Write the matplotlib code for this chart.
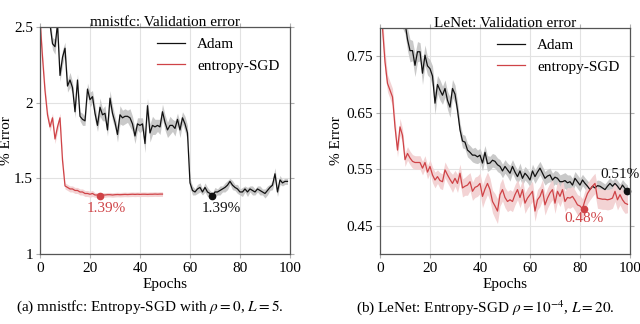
"""
plot.py

Validation error of Adam vs entropy-SGD on mnistfc and LeNet.
"""

import numpy as np
import matplotlib
matplotlib.use("Agg")
import matplotlib.pyplot as plt

plt.rcParams['font.family'] = ['Liberation Serif', 'DejaVu Serif']
plt.rcParams['mathtext.fontset'] = 'stix'
plt.rcParams['font.size'] = 11

RED = '#cf4347'
RED_BAND = '#f3d3d4'
BLACK = '#111111'
GRAY_BAND = '#c9c9c9'

# ---- mnistfc (left panel) ----
adam_mnist_err = [
    3.20, 2.90, 2.75, 2.62, 2.52, 2.39, 2.37, 2.52, 2.18, 2.30,
    2.36, 2.11, 2.15, 2.10, 1.94, 2.15, 1.91, 1.89, 1.88, 2.09,
    2.02, 2.04, 1.93, 1.85, 1.97, 1.92, 1.93, 1.82, 2.03, 1.93,
    1.87, 1.79, 1.92, 1.90, 1.91, 1.91, 1.90, 1.86, 1.78, 1.86,
    1.85, 1.86, 1.73, 1.98, 1.80, 1.85, 1.84, 1.85, 1.84, 1.94,
    1.87, 1.82, 1.85, 1.85, 1.83, 1.89, 1.82, 1.90, 1.86, 1.80,
    1.47, 1.42, 1.41, 1.43, 1.44, 1.41, 1.44, 1.41, 1.40, 1.385,
    1.41, 1.41, 1.42, 1.43, 1.44, 1.455, 1.48, 1.455, 1.44, 1.43,
    1.41, 1.41, 1.43, 1.41, 1.43, 1.42, 1.41, 1.43, 1.42, 1.41,
    1.40, 1.42, 1.44, 1.455, 1.53, 1.41, 1.49, 1.47, 1.48, 1.48,
]
adam_mnist_std = [
    0.05, 0.05, 0.05, 0.05, 0.05, 0.04, 0.05, 0.05, 0.04, 0.05,
    0.04, 0.04, 0.05, 0.04, 0.04, 0.04, 0.03, 0.04, 0.03, 0.04,
    0.05, 0.04, 0.05, 0.04, 0.06, 0.04, 0.05, 0.04, 0.05, 0.05,
    0.04, 0.05, 0.06, 0.05, 0.05, 0.04, 0.06, 0.05, 0.05, 0.04,
    0.05, 0.04, 0.06, 0.05, 0.06, 0.06, 0.05, 0.04, 0.05, 0.05,
    0.05, 0.05, 0.06, 0.04, 0.05, 0.04, 0.05, 0.04, 0.05, 0.05,
    0.03, 0.03, 0.02, 0.03, 0.03, 0.02, 0.03, 0.03, 0.02, 0.02,
    0.03, 0.02, 0.03, 0.02, 0.03, 0.03, 0.02, 0.03, 0.02, 0.03,
    0.02, 0.03, 0.02, 0.03, 0.02, 0.03, 0.02, 0.02, 0.03, 0.02,
    0.03, 0.03, 0.02, 0.03, 0.04, 0.03, 0.03, 0.02, 0.02, 0.02,
]
esgd_mnist_err = [
    2.55, 2.30, 2.08, 1.92, 1.84, 1.90, 1.76, 1.84, 1.90, 1.62,
    1.45, 1.44, 1.43, 1.43, 1.42, 1.42, 1.41, 1.41, 1.40, 1.40,
    1.395, 1.40, 1.39, 1.39, 1.386, 1.39, 1.39, 1.392, 1.392, 1.39,
    1.392, 1.393, 1.392, 1.393, 1.394, 1.393, 1.394, 1.395, 1.394, 1.395,
    1.394, 1.395, 1.395, 1.394, 1.395, 1.395, 1.396, 1.395, 1.396, 1.396,
]
esgd_mnist_std = [
    0.04, 0.04, 0.04, 0.03, 0.03, 0.03, 0.03, 0.03, 0.03, 0.03,
    0.02, 0.02, 0.02, 0.02, 0.02, 0.02, 0.02, 0.02, 0.02, 0.02,
    0.02, 0.02, 0.015, 0.015, 0.015, 0.015, 0.015, 0.015, 0.015, 0.015,
    0.015, 0.015, 0.015, 0.015, 0.015, 0.015, 0.015, 0.015, 0.015, 0.015,
    0.015, 0.015, 0.015, 0.015, 0.015, 0.015, 0.015, 0.015, 0.015, 0.015,
]

# ---- LeNet (right panel) ----
adam_lenet_err = [
    1.00, 0.97, 0.95, 0.93, 0.91, 0.89, 0.87, 0.85, 0.84, 0.82,
    0.81, 0.78, 0.76, 0.76, 0.734, 0.758, 0.758, 0.72, 0.752, 0.733,
    0.728, 0.715, 0.667, 0.70, 0.69, 0.681, 0.693, 0.672, 0.66, 0.693,
    0.683, 0.655, 0.62, 0.600, 0.598, 0.584, 0.58, 0.575, 0.575, 0.572,
    0.575, 0.561, 0.580, 0.56, 0.561, 0.566, 0.564, 0.558, 0.555, 0.547,
    0.555, 0.549, 0.543, 0.555, 0.545, 0.537, 0.547, 0.534, 0.543, 0.538,
    0.531, 0.547, 0.537, 0.545, 0.552, 0.543, 0.534, 0.538, 0.540, 0.531,
    0.536, 0.534, 0.528, 0.528, 0.530, 0.526, 0.528, 0.522, 0.534, 0.528,
    0.522, 0.531, 0.525, 0.520, 0.514, 0.520, 0.517, 0.521, 0.520, 0.517,
    0.514, 0.520, 0.525, 0.520, 0.525, 0.520, 0.514, 0.522, 0.516, 0.512,
]
adam_lenet_std = [
    0.02, 0.02, 0.02, 0.02, 0.02, 0.02, 0.02, 0.02, 0.02, 0.02,
    0.02, 0.02, 0.02, 0.018, 0.02, 0.018, 0.016, 0.02, 0.018, 0.016,
    0.016, 0.018, 0.02, 0.016, 0.018, 0.016, 0.015, 0.016, 0.018, 0.016,
    0.016, 0.015, 0.012, 0.012, 0.012, 0.012, 0.012, 0.012, 0.014, 0.012,
    0.012, 0.014, 0.012, 0.014, 0.012, 0.012, 0.012, 0.012, 0.012, 0.012,
    0.012, 0.012, 0.014, 0.012, 0.012, 0.012, 0.014, 0.012, 0.012, 0.012,
    0.012, 0.012, 0.012, 0.012, 0.012, 0.012, 0.012, 0.012, 0.012, 0.012,
    0.012, 0.012, 0.012, 0.014, 0.014, 0.014, 0.012, 0.012, 0.012, 0.012,
    0.012, 0.01, 0.01, 0.01, 0.01, 0.01, 0.01, 0.01, 0.01, 0.01,
    0.01, 0.01, 0.01, 0.01, 0.01, 0.01, 0.01, 0.01, 0.01, 0.01,
]
esgd_lenet_err = [
    0.85, 0.80, 0.74, 0.702, 0.69, 0.678, 0.625, 0.584, 0.625, 0.61,
    0.567, 0.578, 0.570, 0.564, 0.562, 0.562, 0.562, 0.552, 0.562, 0.545,
    0.555, 0.540, 0.531, 0.537, 0.530, 0.528, 0.549, 0.540, 0.532, 0.525,
    0.534, 0.525, 0.543, 0.517, 0.520, 0.522, 0.528, 0.511, 0.518, 0.520,
    0.525, 0.502, 0.515, 0.525, 0.514, 0.493, 0.485, 0.476, 0.505, 0.514,
    0.500, 0.493, 0.496, 0.493, 0.505, 0.514, 0.500, 0.514, 0.490, 0.499,
    0.505, 0.511, 0.476, 0.496, 0.502, 0.514, 0.487, 0.499, 0.508, 0.514,
    0.490, 0.511, 0.502, 0.514, 0.493, 0.500, 0.499, 0.502, 0.495, 0.487,
    0.485, 0.480, 0.495, 0.507, 0.514, 0.520, 0.525, 0.499, 0.498, 0.497,
    0.497, 0.496, 0.497, 0.499, 0.511, 0.496, 0.505, 0.496, 0.490, 0.488,
]
esgd_lenet_std = [
    0.02, 0.02, 0.02, 0.015, 0.015, 0.015, 0.015, 0.012, 0.015, 0.012,
    0.012, 0.012, 0.012, 0.012, 0.012, 0.012, 0.012, 0.012, 0.012, 0.012,
    0.012, 0.014, 0.014, 0.012, 0.014, 0.014, 0.014, 0.014, 0.014, 0.016,
    0.014, 0.016, 0.016, 0.016, 0.016, 0.018, 0.016, 0.016, 0.018, 0.018,
    0.018, 0.02, 0.02, 0.02, 0.02, 0.02, 0.022, 0.022, 0.02, 0.02,
    0.018, 0.018, 0.018, 0.018, 0.018, 0.018, 0.018, 0.018, 0.018, 0.018,
    0.018, 0.018, 0.018, 0.018, 0.018, 0.018, 0.018, 0.018, 0.018, 0.018,
    0.018, 0.018, 0.018, 0.018, 0.018, 0.018, 0.018, 0.018, 0.018, 0.018,
    0.018, 0.018, 0.018, 0.018, 0.018, 0.018, 0.018, 0.018, 0.018, 0.018,
    0.018, 0.018, 0.018, 0.018, 0.018, 0.018, 0.018, 0.018, 0.018, 0.015,
]

# best points: (epoch, value, text, text_x, text_y)
mnist_best_esgd = (24, 1.386, '1.39%', 26.5, 1.30)
mnist_best_adam = (69, 1.385, '1.39%', 72.5, 1.30)
lenet_best_esgd = (81.5, 0.479, '0.48%', 81.5, 0.462)
lenet_best_adam = (99, 0.512, '0.51%', 96, 0.541)

mnist_yticks = [1, 1.5, 2, 2.5]
mnist_yticklabels = ['1', '1.5', '2', '2.5']
lenet_yticks = [0.45, 0.55, 0.65, 0.75]
lenet_yticklabels = ['0.45', '0.55', '0.65', '0.75']
xticks = [0, 20, 40, 60, 80, 100]


def draw_band(ax, err, std, color, band_color, label):
    err = np.asarray(err)
    std = np.asarray(std)
    epochs = np.arange(len(err))
    ax.fill_between(epochs, err - std, err + std, color=band_color, lw=0)
    ax.plot(epochs, err, color=color, lw=0.9, label=label)


def mark_best(ax, best, color):
    x, y, text, tx, ty = best
    ax.plot(x, y, 'o', color=color, ms=4.5, clip_on=False)
    ax.text(tx, ty, text, color=color, ha='center', va='center', clip_on=False)


def style_axes(ax, title, ylim, yticks, yticklabels):
    ax.set_xlim(0, 100)
    ax.set_ylim(*ylim)
    ax.set_xticks(xticks)
    ax.set_yticks(yticks)
    ax.set_yticklabels(yticklabels)
    ax.grid(True, color='#e2e2e2', lw=0.8)
    ax.set_axisbelow(True)
    ax.tick_params(direction='out', top=True, right=True, length=3,
                   width=0.8, color='#b0b0b0', labelsize=11, pad=2)
    ax.tick_params(axis='x', pad=3)
    for sp in ax.spines.values():
        sp.set_color('#555555')
        sp.set_linewidth(0.9)
    ax.set_title(title, fontsize=11, pad=0.5)
    ax.set_xlabel('Epochs', labelpad=2)
    ax.set_ylabel('% Error')
    ax.legend(loc='upper right', frameon=False, handlelength=1.8,
              handletextpad=0.8, fontsize=11, borderaxespad=0.4,
              borderpad=0.3, labelspacing=0.5)


fig = plt.figure(figsize=(6.4, 3.24), dpi=100)
ax1 = fig.add_axes([0.0625, 0.216, 0.3906, 0.7006])
ax2 = fig.add_axes([0.59375, 0.216, 0.3906, 0.6975])

# left panel
draw_band(ax1, adam_mnist_err, adam_mnist_std, BLACK, GRAY_BAND, 'Adam')
draw_band(ax1, esgd_mnist_err, esgd_mnist_std, RED, RED_BAND, 'entropy-SGD')
style_axes(ax1, 'mnistfc: Validation error', (1, 2.5),
           mnist_yticks, mnist_yticklabels)
mark_best(ax1, mnist_best_esgd, RED)
mark_best(ax1, mnist_best_adam, BLACK)
ax1.yaxis.set_label_coords(-0.11, 0.5)

# right panel
draw_band(ax2, adam_lenet_err, adam_lenet_std, BLACK, GRAY_BAND, 'Adam')
draw_band(ax2, esgd_lenet_err, esgd_lenet_std, RED, RED_BAND, 'entropy-SGD')
style_axes(ax2, 'LeNet: Validation error', (0.40, 0.80),
           lenet_yticks, lenet_yticklabels)
mark_best(ax2, lenet_best_esgd, RED)
mark_best(ax2, lenet_best_adam, BLACK)
ax2.yaxis.set_label_coords(-0.15, 0.5)

fig.text(0.234, 0.052, r'(a) mnistfc: Entropy-SGD with $\rho = 0$, $L = 5$.',
         ha='center', va='center', fontsize=11)
fig.text(0.759, 0.052, r'(b) LeNet: Entropy-SGD $\rho = 10^{-4}$, $L = 20$.',
         ha='center', va='center', fontsize=11)

fig.savefig('out.png', dpi=100)
